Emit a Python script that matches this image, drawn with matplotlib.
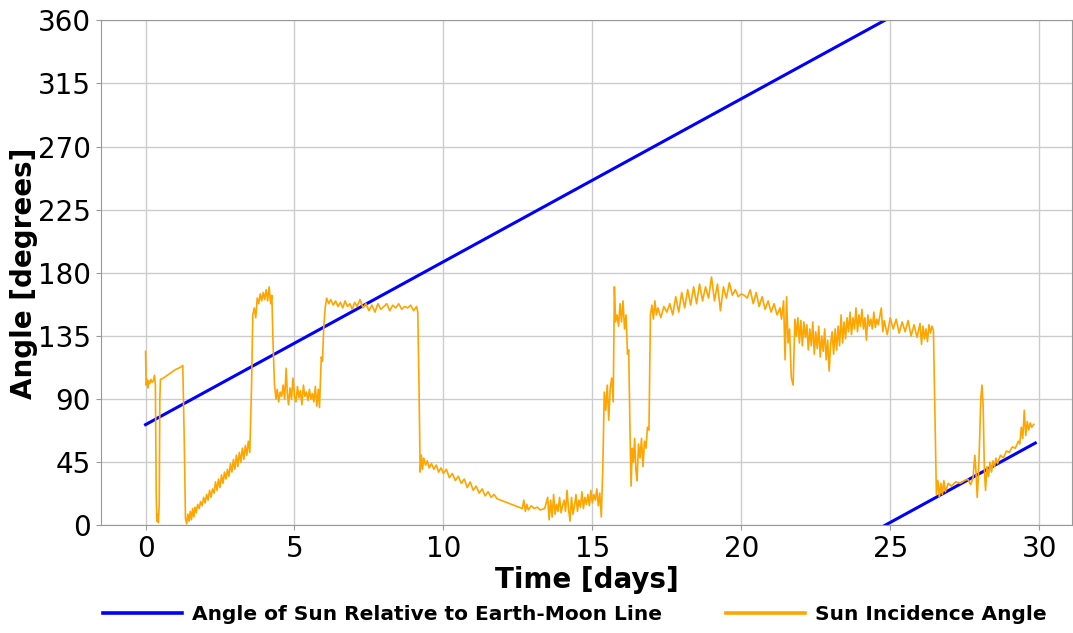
import numpy as np
import matplotlib.pyplot as plt

plt.rcParams['font.family'] = ['DejaVu Sans']

# Sun angle relative to the Earth-Moon line (wraps at 360 deg)
sun_days = [0.0, 24.82, np.nan, 24.82, 29.87]
sun_angle = [71.8, 360.0, np.nan, 0.0, 58.7]

# Sun incidence angle on the spacecraft face
inc_days = [
    0.00, 0.02, 0.05, 0.08, 0.11, 0.14, 0.18, 0.22, 0.26, 0.30, 0.33,
    0.36, 0.38, 0.41, 0.43, 0.46, 0.48, 0.50,
    0.60, 0.80, 1.00, 1.20, 1.25,
    1.30, 1.34, 1.38, 1.42, 1.46, 1.50, 1.54, 1.58, 1.62, 1.66, 1.70, 1.75,
    1.80, 1.85, 1.90, 1.95, 2.00, 2.05, 2.10, 2.15, 2.20, 2.25, 2.30, 2.35,
    2.40, 2.45, 2.50, 2.55, 2.60, 2.65, 2.70, 2.75, 2.80, 2.85, 2.90, 2.95,
    3.00, 3.05, 3.10, 3.15, 3.20, 3.25, 3.30, 3.35, 3.40, 3.45, 3.50,
    3.56, 3.60, 3.65, 3.70, 3.75, 3.80, 3.85, 3.90, 3.95, 4.00, 4.05, 4.10,
    4.15, 4.20, 4.24,
    4.28, 4.33, 4.38, 4.42, 4.47, 4.52, 4.57, 4.62, 4.67, 4.72, 4.76, 4.80,
    4.85, 4.90, 4.95, 5.00, 5.05, 5.10, 5.15, 5.20, 5.25, 5.30, 5.35, 5.40,
    5.45, 5.50, 5.55, 5.60, 5.65, 5.70, 5.75, 5.80, 5.84,
    5.90, 5.94, 5.98, 6.03, 6.08, 6.15, 6.22, 6.30, 6.38, 6.46, 6.54, 6.62,
    6.70, 6.78, 6.86, 6.94, 7.02, 7.10, 7.20, 7.30, 7.40, 7.50, 7.60, 7.70,
    7.80, 7.90, 8.00, 8.10, 8.20, 8.30, 8.40, 8.50, 8.60, 8.70, 8.80, 8.90,
    9.00, 9.10, 9.14,
    9.18, 9.22, 9.26, 9.30, 9.34, 9.40, 9.46, 9.52, 9.60, 9.68, 9.76, 9.84,
    9.92, 10.00, 10.10, 10.20, 10.30, 10.40, 10.50, 10.60, 10.70, 10.80,
    10.90, 11.00, 11.10, 11.20, 11.30, 11.40, 11.50, 11.60, 11.70, 11.80,
    12.65,
    12.70, 12.75, 12.80, 12.85, 12.95, 13.05, 13.15, 13.25, 13.40, 13.50,
    13.55, 13.60, 13.65, 13.70, 13.75, 13.80, 13.85, 13.90, 13.95, 14.00,
    14.05, 14.10, 14.15, 14.20, 14.25, 14.30, 14.35, 14.40, 14.45, 14.50,
    14.55, 14.60, 14.65, 14.70, 14.75, 14.80, 14.85, 14.90, 14.95, 15.00,
    15.05, 15.10, 15.15, 15.20, 15.25, 15.30,
    15.35, 15.40, 15.45, 15.50, 15.55, 15.60, 15.65, 15.70, 15.74, 15.78,
    15.83, 15.88, 15.93, 15.98, 16.03, 16.08, 16.13, 16.18, 16.22,
    16.27, 16.30, 16.34, 16.38, 16.42, 16.46, 16.50, 16.55, 16.60, 16.65,
    16.70, 16.75, 16.80, 16.85, 16.90,
    16.95, 17.00, 17.05, 17.10, 17.15, 17.20, 17.30, 17.40, 17.50, 17.60,
    17.70, 17.80, 17.90, 18.00, 18.10, 18.20, 18.30, 18.40, 18.50, 18.60,
    18.70, 18.80, 18.90, 19.00, 19.10, 19.20, 19.30, 19.40, 19.50, 19.60,
    19.70, 19.80, 19.90, 20.00, 20.10, 20.20, 20.30, 20.40, 20.50, 20.60,
    20.70, 20.80, 20.90, 21.00, 21.10, 21.20, 21.30, 21.35,
    21.42, 21.47, 21.52, 21.57, 21.62, 21.68, 21.74, 21.80, 21.85, 21.90,
    21.95, 22.00, 22.05, 22.10, 22.15, 22.20, 22.25, 22.30, 22.35, 22.40,
    22.45, 22.50, 22.55, 22.60, 22.65, 22.70, 22.75, 22.80, 22.85, 22.90,
    22.95, 23.00, 23.05, 23.10, 23.15, 23.20, 23.25, 23.30, 23.35, 23.40,
    23.45, 23.50, 23.55, 23.60, 23.65, 23.70, 23.75, 23.80, 23.85, 23.90,
    23.95, 24.00, 24.05, 24.10, 24.15, 24.20, 24.25, 24.30, 24.35, 24.40,
    24.45, 24.50, 24.55, 24.60, 24.70, 24.75, 24.80, 24.90, 25.00, 25.10,
    25.20, 25.30, 25.40, 25.50, 25.60, 25.70, 25.80, 25.90, 26.00, 26.05,
    26.10, 26.15, 26.20, 26.25, 26.30, 26.35, 26.40, 26.45,
    26.50, 26.55, 26.60, 26.65, 26.70, 26.75, 26.80, 26.85, 26.95, 27.05,
    27.20, 27.35, 27.50, 27.60, 27.70, 27.78, 27.84, 27.88, 27.92, 27.96,
    28.00, 28.04, 28.08, 28.12, 28.16, 28.20, 28.25, 28.30, 28.35, 28.40,
    28.45, 28.50, 28.55, 28.60, 28.70, 28.80, 28.90, 29.00, 29.10, 29.20,
    29.30, 29.35, 29.40, 29.45, 29.50, 29.55, 29.60, 29.65, 29.70, 29.75,
    29.82,
]
inc_angle = [
    124, 100, 104, 98, 103, 101, 104, 102, 103, 107, 100,
    20, 3, 8, 2, 15, 90, 104,
    105, 108, 111, 113, 114,
    60, 5, 1, 8, 3, 10, 4, 12, 6, 13, 9, 15,
    12, 17, 14, 20, 16, 22, 18, 25, 20, 26, 23, 31,
    25, 33, 27, 36, 30, 38, 33, 40, 35, 44, 38, 47,
    40, 50, 42, 52, 45, 55, 47, 57, 50, 60, 52,
    100, 150, 155, 148, 162, 158, 165, 160, 166, 161, 168, 160,
    170, 158, 164,
    130, 100, 90, 97, 88, 95, 92, 100, 90, 112, 94, 86,
    98, 90, 105, 92, 88, 99, 91, 96, 86, 100, 92, 95,
    89, 97, 90, 94, 88, 99, 85, 97, 84,
    120, 117, 140, 155, 162, 158, 161, 157, 160, 156, 159, 155,
    160, 156, 158, 154, 159, 156, 161, 155, 158, 153, 157, 152,
    158, 154, 156, 158, 153, 157, 155, 158, 154, 156, 155, 157,
    153, 156, 152,
    100, 38, 50, 40, 48, 43, 46, 41, 44, 40, 43, 38,
    41, 37, 40, 34, 37, 32, 35, 30, 33, 27,
    31, 25, 28, 23, 26, 21, 24, 20, 22, 19,
    12,
    18, 10, 15, 11, 14, 12, 13, 11, 12, 20,
    4, 18, 6, 22, 8, 15, 10, 20, 9, 14,
    18, 10, 25, 12, 3, 20, 8, 14, 22, 10,
    18, 13, 24, 12, 20, 15, 22, 14, 25, 16,
    22, 18, 26, 14, 23, 6,
    40, 95, 82, 100, 75, 98, 105, 88, 170, 145,
    150, 142, 158, 145, 160, 140, 150, 122, 125,
    60, 28, 55, 45, 62, 40, 32, 58, 48, 62,
    42, 60, 55, 70, 68,
    150, 157, 147, 160, 150, 155, 148, 156, 152, 158,
    150, 163, 152, 166, 155, 168, 157, 170, 158, 172,
    160, 170, 162, 177, 160, 172, 153, 170, 162, 173,
    164, 168, 163, 165, 164, 162, 168, 158, 166, 156,
    163, 154, 160, 152, 158, 150, 155, 147,
    160, 118, 163, 130, 140, 105, 100, 147, 135, 148,
    130, 146, 128, 145, 134, 143, 125, 140, 128, 145,
    122, 138, 126, 142, 120, 135, 124, 140, 118, 132,
    110, 130, 138, 122, 140, 125, 142, 128, 150, 130,
    145, 133, 148, 138, 152, 136, 148, 140, 155, 138,
    150, 142, 154, 140, 148, 132, 150, 142, 147, 140,
    152, 141, 147, 143, 155, 138, 146, 136, 148, 140,
    147, 137, 145, 138, 146, 135, 143, 134, 144, 129,
    142, 133, 140, 131, 143, 137, 142, 139,
    80, 22, 32, 20, 30, 22, 32, 24, 30, 28,
    31, 30, 32, 33, 29, 34, 50, 38, 20, 35,
    60, 90, 100, 85, 40, 25, 42, 35, 45, 38,
    46, 42, 48, 44, 50, 48, 53, 52, 56, 55,
    60, 58, 70, 62, 82, 64, 74, 68, 73, 70,
    72,
]

fig, ax = plt.subplots(figsize=(10.73, 6.33), dpi=100)
fig.subplots_adjust(left=0.094, right=0.999, bottom=0.17, top=0.968)

ax.plot(sun_days, sun_angle, color='blue', lw=2.2,
        label='Angle of Sun Relative to Earth-Moon Line')
ax.plot(inc_days, inc_angle, color='orange', lw=1.2,
        label='Sun Incidence Angle')

ax.set_xlim(-1.5, 31.1)
ax.set_ylim(0, 360)
ax.set_xticks(range(0, 31, 5))
ax.set_yticks(np.arange(0, 361, 45))
ax.tick_params(labelsize=20, color='#999999')
ax.grid(color='#cccccc', lw=1)
for spine in ax.spines.values():
    spine.set_color('#999999')

ax.set_xlabel('Time [days]', fontsize=20, fontweight='bold', labelpad=2)
ax.set_ylabel('Angle [degrees]', fontsize=20, fontweight='bold', labelpad=0)
leg = ax.legend(loc='upper center', bbox_to_anchor=(0.488, -0.122), ncol=2,
                frameon=False, prop={'weight': 'bold', 'size': 14.5},
                handlelength=3.9, handletextpad=0.5, columnspacing=3.2)
for line in leg.get_lines():
    line.set_linewidth(2.6)

fig.savefig('out.png', dpi=100)
